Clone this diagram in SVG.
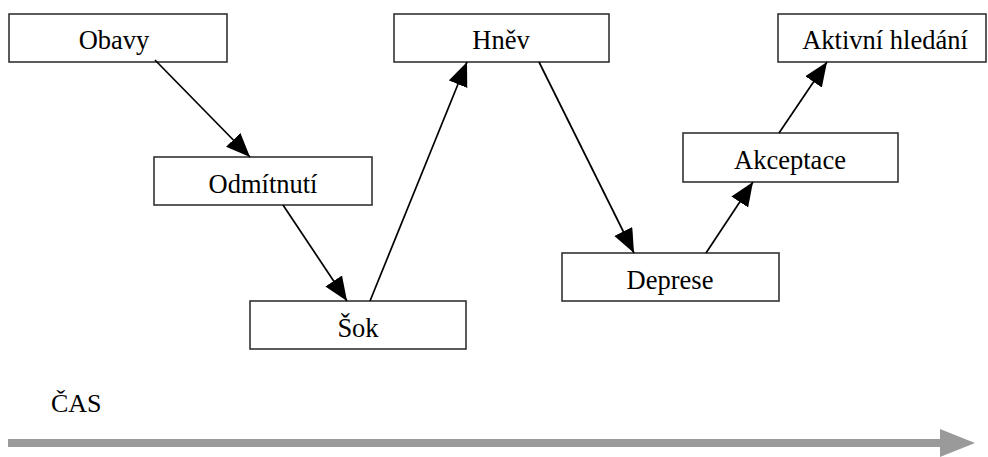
<svg xmlns="http://www.w3.org/2000/svg" width="988" height="457" viewBox="0 0 988 457">
<defs>
<style>
.box{fill:#fff;stroke:#333;stroke-width:1.6}
.lbl{font-family:"Liberation Serif","Times New Roman",serif;font-size:26.5px;fill:#000;text-anchor:middle}
.con{stroke:#000;stroke-width:1.7;fill:none;marker-end:url(#ah)}
</style>
<marker id="ah" markerUnits="userSpaceOnUse" markerWidth="28" markerHeight="22" refX="24" refY="10" orient="auto" viewBox="0 0 28 22">
<path d="M0,0 L24,10 L0,20 z" fill="#000"/>
</marker>
</defs>
<rect width="988" height="457" fill="#fff"/>
<g id="n-obavy"><rect class="box" x="9" y="14" width="218" height="48"/><text class="lbl" x="114" y="49">Obavy</text></g>
<g id="n-odmitnuti"><rect class="box" x="154" y="157" width="218" height="48"/><text class="lbl" x="263" y="193">Odmítnutí</text></g>
<g id="n-sok"><rect class="box" x="250" y="301" width="216" height="48"/><text class="lbl" x="358" y="337">Šok</text></g>
<g id="n-hnev"><rect class="box" x="394" y="14" width="215" height="48"/><text class="lbl" x="501" y="49">Hněv</text></g>
<g id="n-deprese"><rect class="box" x="562" y="253" width="217" height="48"/><text class="lbl" x="670" y="289">Deprese</text></g>
<g id="n-akceptace"><rect class="box" x="683" y="133" width="215" height="49"/><text class="lbl" x="790" y="169">Akceptace</text></g>
<g id="n-aktivni"><rect class="box" x="778" y="14" width="208" height="48"/><text class="lbl" x="885" y="49">Aktivní hledání</text></g>
<g id="connectors">
<line class="con" x1="155" y1="60" x2="250" y2="157"/>
<line class="con" x1="283" y1="205" x2="347" y2="301"/>
<line class="con" x1="370" y1="301" x2="467" y2="62"/>
<line class="con" x1="539" y1="62" x2="634" y2="253"/>
<line class="con" x1="706" y1="253" x2="753" y2="182"/>
<line class="con" x1="779" y1="133" x2="827" y2="62"/>
</g>
<g id="timeline">
<text x="51" y="412" font-family="'Liberation Serif','Times New Roman',serif" font-size="26" fill="#000">ČAS</text>
<rect x="8" y="439" width="934" height="8" fill="#9a9a9a"/>
<path d="M940,429 L975,443 L940,457 z" fill="#9a9a9a"/>
</g>
</svg>
